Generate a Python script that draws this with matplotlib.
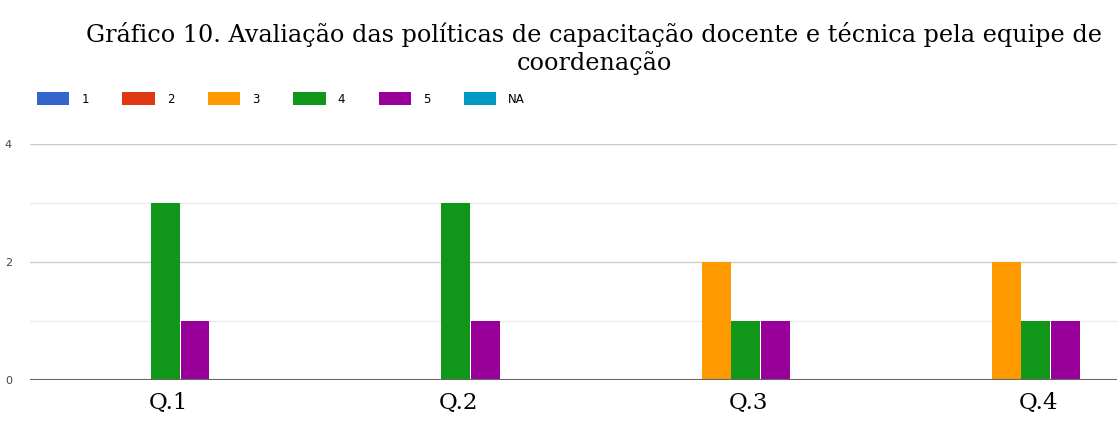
import numpy as np
import matplotlib
matplotlib.use("Agg")
from matplotlib import pyplot as plt

categories = ["Q.1", "Q.2", "Q.3", "Q.4"]
series_names = ["1", "2", "3", "4", "5", "NA"]
s1 = [0, 0, 0, 0]
s2 = [0, 0, 0, 0]
s3 = [0, 0, 2, 2]
s4 = [3, 3, 1, 1]
s5 = [1, 1, 1, 1]
s_na = [0, 0, 0, 0]
colors = ["#3366cc", "#dc3912", "#ff9900", "#109618", "#990099", "#0099c6"]

title = ("Gráfico 10. Avaliação das políticas de capacitação docente e técnica pela equipe de\n"
         "coordenação")


def main():
    series = [s1, s2, s3, s4, s5, s_na]
    fig = plt.figure(figsize=(11.17, 4.21), dpi=100)
    ax = fig.add_axes([30 / 1117, 1 - 380 / 421, 1 - 30 / 1117, (380 - 144) / 421])

    x = np.arange(len(categories))
    w = 0.1017
    handles = []
    for i, (vals, name, c) in enumerate(zip(series, series_names, colors)):
        b = ax.bar(x + (i - 2.5) * w, vals, width=w * 0.97, color=c, label=name, zorder=3)
        handles.append(b)

    ax.set_xlim(-0.417, 3.331)
    ax.set_ylim(0, 4)
    ax.set_yticks([0, 2, 4])
    ax.set_yticks([1, 3], minor=True)
    ax.grid(axis="y", which="major", color="#cccccc", lw=1, zorder=0)
    ax.grid(axis="y", which="minor", color="#ebebeb", lw=1, zorder=0)
    ax.axhline(0, color="#666666", lw=1.5, zorder=4)
    for s in ax.spines.values():
        s.set_visible(False)
    ax.tick_params(axis="y", which="both", length=0, labelsize=8, labelcolor="#444444", pad=13)
    ax.tick_params(axis="x", length=0, pad=9)
    ax.set_xticks(x + 0.06)
    ax.set_xticklabels(categories, fontsize=16.5, family="DejaVu Serif")

    fig.text(0.532, 0.948, title, ha="center", va="top", fontsize=17.2,
             family="DejaVu Serif", linespacing=1.22)
    fig.legend(handles=handles, labels=series_names, loc="center left",
               bbox_to_anchor=(37 / 1117, 1 - 99 / 421), ncol=6, frameon=False,
               fontsize=8.5, handlelength=2.75, handleheight=1.3, handletextpad=1.0,
               columnspacing=2.85, borderaxespad=0, borderpad=0)

    fig.savefig("out.png", dpi=100)


if __name__ == "__main__":
    main()
